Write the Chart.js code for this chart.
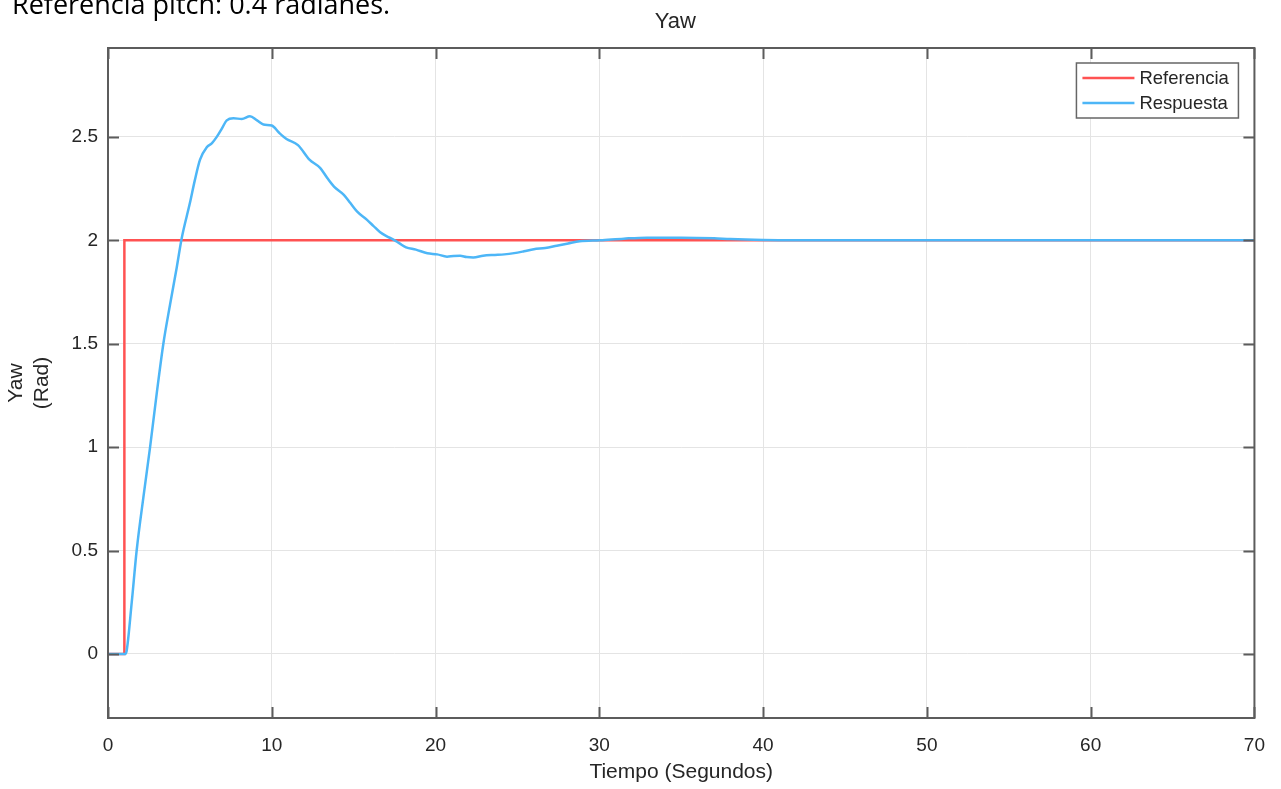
<!DOCTYPE html>
<html>
<head>
<meta charset="utf-8">
<title>Yaw</title>
<script src="https://cdn.jsdelivr.net/npm/chart.js@4.4.1/dist/chart.umd.min.js"></script>
<style>
    html, body { margin: 0; padding: 0; background: #fff; }
    #wrap { width: 1281px; height: 789px; position: relative; }
</style>
</head>
<body>
<div id="wrap"><canvas id="yawChart"></canvas></div>
<script>
// ============================================
// Data
// ============================================
const tiempoRef = [0, 1, 1, 70];
const yawRef = [0, 0, 2, 2];

const tiempoResp = [
    0, 1.05, 1.14, 1.45, 1.75, 2.16, 2.57, 2.97, 3.38, 3.79, 4.2, 4.5, 5.0, 5.3, 5.62,
    6.03, 6.35, 6.64, 6.95, 7.25, 7.66, 8.17, 8.67, 9.1, 9.49, 10.0, 10.45, 10.9, 11.6,
    12.3, 12.95, 13.4, 13.8, 14.4, 14.8, 15.2, 15.8, 16.2, 16.6, 17.0, 17.4, 17.8, 18.2,
    18.8, 19.5, 20.1, 20.7, 21.1, 21.5, 21.9, 22.3, 22.9, 23.5, 24.2, 24.8, 25.4, 26.0,
    26.7, 27.4, 28.1, 28.8, 30.05, 31.5, 32.9, 35.0, 37.0, 38.0, 40, 45, 50, 55, 60, 65, 70
];
const yawResp = [
    0, 0, 0.015, 0.25, 0.50, 0.757, 1.0, 1.256, 1.50, 1.69, 1.87, 2.01, 2.18, 2.29, 2.39,
    2.45, 2.47, 2.50, 2.54, 2.58, 2.59, 2.587, 2.60, 2.58, 2.56, 2.555, 2.52, 2.49, 2.46,
    2.39, 2.35, 2.30, 2.26, 2.22, 2.18, 2.14, 2.10, 2.07, 2.04, 2.02, 2.005, 1.985, 1.966,
    1.955, 1.937, 1.932, 1.921, 1.924, 1.925, 1.919, 1.917, 1.925, 1.929, 1.932, 1.938, 1.947, 1.957,
    1.963, 1.974, 1.985, 1.995, 2.0, 2.008, 2.013, 2.013, 2.01, 2.006, 2.002, 2.0, 2.0, 2.0, 2.0, 2.0, 2.0
];

const xTicks = [0, 10, 20, 30, 40, 50, 60, 70];
const yTicks = [0, 0.5, 1, 1.5, 2, 2.5];

const seriesNames = ['Referencia', 'Respuesta'];
const seriesColors = ['#ff5252', '#4db6f7'];

const toPoints = (xs, ys) => xs.map((x, i) => ({ x: x, y: ys[i] }));

const FONT = "'Liberation Sans', Arial, sans-serif";
const TEXT = '#262626';

// ============================================
// Axes box, inward ticks, title and legend
// ============================================
const matlabFrame = {
    id: 'matlabFrame',
    afterDraw(chart) {
        const ctx = chart.ctx;
        const ca = chart.chartArea;
        const xs = chart.scales.x;
        const ys = chart.scales.y;
        const tl = 11;

        ctx.save();

        // box round the plot area
        ctx.strokeStyle = '#5c5c5c';
        ctx.lineWidth = 2;
        ctx.strokeRect(ca.left, ca.top, ca.right - ca.left, ca.bottom - ca.top);

        // tick marks pointing inward
        ctx.beginPath();
        xTicks.forEach(v => {
            const px = Math.round(xs.getPixelForValue(v)) + 0.5;
            ctx.moveTo(px, ca.bottom);
            ctx.lineTo(px, ca.bottom - tl);
            ctx.moveTo(px, ca.top);
            ctx.lineTo(px, ca.top + tl);
        });
        yTicks.forEach(v => {
            const py = Math.round(ys.getPixelForValue(v)) + 0.5;
            ctx.moveTo(ca.left, py);
            ctx.lineTo(ca.left + tl, py);
            ctx.moveTo(ca.right, py);
            ctx.lineTo(ca.right - tl, py);
        });
        ctx.stroke();

        // chart title
        ctx.fillStyle = TEXT;
        ctx.font = '22px ' + FONT;
        ctx.textAlign = 'center';
        ctx.textBaseline = 'alphabetic';
        ctx.fillText('Yaw', (ca.left + ca.right) / 2 - 6, 28);

        // caption line above the figure
        ctx.fillStyle = '#000';
        ctx.font = "27px 'Open Sans', 'Noto Sans', sans-serif";
        ctx.textAlign = 'left';
        ctx.fillText('Referencia pitch: 0.4 radianes.', 12, 14, 385);

        // legend
        const lx = ca.right - 178;
        const ly = ca.top + 15;
        const lw = 162;
        const lh = 55;
        ctx.fillStyle = '#fff';
        ctx.fillRect(lx, ly, lw, lh);
        ctx.strokeStyle = '#666';
        ctx.lineWidth = 1.5;
        ctx.strokeRect(lx, ly, lw, lh);

        ctx.font = '18.5px ' + FONT;
        ctx.textBaseline = 'middle';
        seriesNames.forEach((name, i) => {
            const yy = ly + 15 + i * 25;
            ctx.strokeStyle = seriesColors[i];
            ctx.lineWidth = 2.5;
            ctx.beginPath();
            ctx.moveTo(lx + 6, yy);
            ctx.lineTo(lx + 58, yy);
            ctx.stroke();
            ctx.fillStyle = TEXT;
            ctx.fillText(name, lx + 63, yy + 1);
        });

        ctx.restore();
    }
};

// ============================================
// Chart
// ============================================
function initializeChart() {
    const ctx = document.getElementById('yawChart');

    new Chart(ctx, {
        type: 'line',
        data: {
            datasets: [
                {
                    label: seriesNames[0],
                    data: toPoints(tiempoRef, yawRef),
                    borderColor: seriesColors[0],
                    borderWidth: 2.5,
                    pointRadius: 0,
                    tension: 0,
                    order: 2
                },
                {
                    label: seriesNames[1],
                    data: toPoints(tiempoResp, yawResp),
                    borderColor: seriesColors[1],
                    borderWidth: 2.5,
                    pointRadius: 0,
                    cubicInterpolationMode: 'monotone',
                    order: 1
                }
            ]
        },
        options: {
            responsive: true,
            maintainAspectRatio: false,
            animation: false,
            layout: {
                padding: { left: 0, top: 48, right: 26, bottom: 0 }
            },
            plugins: {
                legend: { display: false },
                title: { display: false },
                tooltip: { enabled: false }
            },
            scales: {
                x: {
                    type: 'linear',
                    min: 0,
                    max: 70,
                    afterFit: s => { s.height = 71; },
                    afterBuildTicks: s => { s.ticks = xTicks.map(v => ({ value: v })); },
                    grid: {
                        color: '#e4e4e4',
                        lineWidth: 1,
                        drawTicks: false
                    },
                    border: { display: false },
                    ticks: {
                        font: { family: FONT, size: 19 },
                        color: TEXT,
                        padding: 16,
                        maxRotation: 0,
                        callback: v => String(v)
                    },
                    title: {
                        display: true,
                        text: 'Tiempo (Segundos)',
                        font: { family: FONT, size: 21 },
                        color: TEXT,
                        padding: { top: 0, bottom: 4 }
                    }
                },
                y: {
                    type: 'linear',
                    min: -0.31,
                    max: 2.93,
                    afterFit: s => { s.width = 108; },
                    afterBuildTicks: s => { s.ticks = yTicks.map(v => ({ value: v })); },
                    grid: {
                        color: '#e4e4e4',
                        lineWidth: 1,
                        drawTicks: false
                    },
                    border: { display: false },
                    ticks: {
                        font: { family: FONT, size: 19 },
                        color: TEXT,
                        padding: 10,
                        callback: v => String(v)
                    },
                    title: {
                        display: true,
                        text: ['Yaw', '(Rad)'],
                        font: { family: FONT, size: 21 },
                        color: TEXT,
                        padding: { top: 4, bottom: 0 }
                    }
                }
            }
        },
        plugins: [matlabFrame]
    });
}

document.addEventListener('DOMContentLoaded', () => {
    initializeChart();
});
</script>
</body>
</html>
